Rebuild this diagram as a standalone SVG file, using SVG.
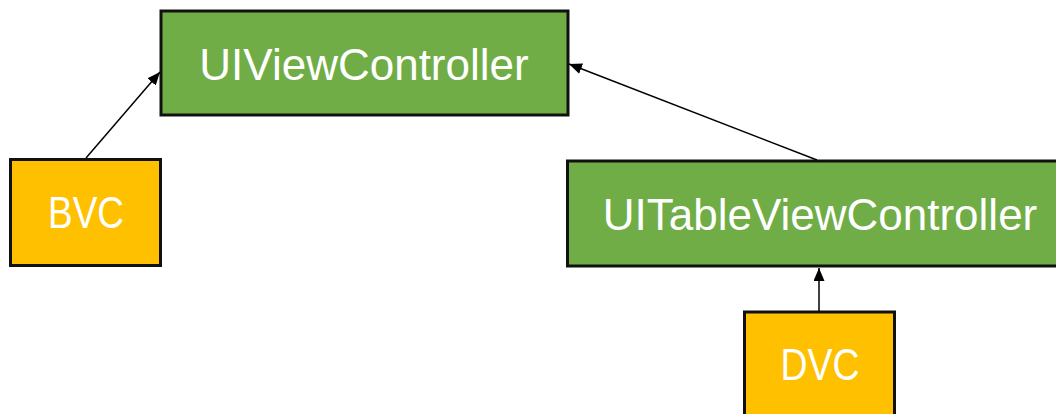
<svg xmlns="http://www.w3.org/2000/svg" width="1056" height="414" viewBox="0 0 1056 414">
<style>
.g{fill:#70AD47;stroke:#111;stroke-width:3}
.y{fill:#FFC000;stroke:#111;stroke-width:3}
.t{font-family:"Liberation Sans",Arial,sans-serif;font-size:44px;fill:#fff;text-anchor:middle}
.c{stroke:#000;stroke-width:1.5;fill:none;marker-end:url(#ah)}
</style>
<defs>
<marker id="ah" viewBox="0 0 13 11" refX="13" refY="5.5" markerWidth="13" markerHeight="11" markerUnits="userSpaceOnUse" orient="auto">
<path d="M0,0 L13,5.5 L0,11 Z" fill="#000"/>
</marker>
</defs>
<rect width="1056" height="414" fill="#fff"/>
<g id="UIViewController"><rect class="g" x="161" y="11" width="407" height="104"/><text class="t" x="364" y="80">UIViewController</text></g>
<g id="BVC"><rect class="y" x="10.5" y="159.5" width="150" height="106"/><text class="t" x="86" y="228" textLength="76" lengthAdjust="spacingAndGlyphs">BVC</text></g>
<g id="UITableViewController"><rect class="g" x="567.5" y="161" width="510" height="105"/><text class="t" x="820" y="230">UITableViewController</text></g>
<g id="DVC"><rect class="y" x="744.5" y="312" width="150" height="120"/><text class="t" x="820" y="380" textLength="79" lengthAdjust="spacingAndGlyphs">DVC</text></g>
<g id="connectors">
<line class="c" x1="86" y1="158" x2="160" y2="72"/>
<line class="c" x1="817" y1="160" x2="569" y2="64"/>
<line class="c" x1="819" y1="311" x2="819" y2="268"/>
</g>
</svg>
